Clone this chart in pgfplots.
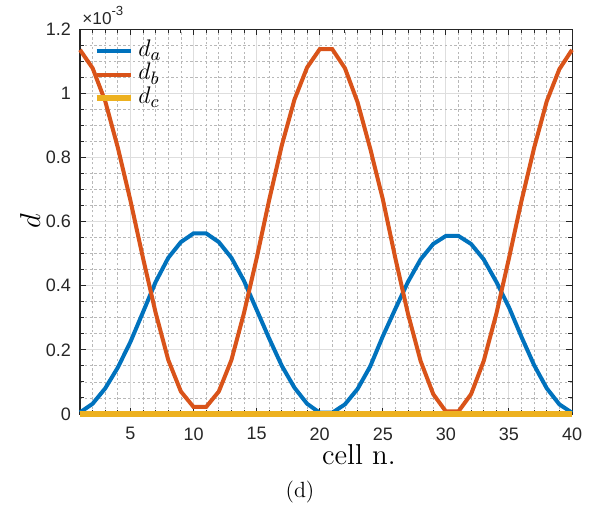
\documentclass[border=0pt]{standalone}
\usepackage{fontspec}
\usepackage{pgfplots}
\pgfplotsset{compat=1.18}
\newfontfamily\helv{Liberation Sans}
\definecolor{mblue}{HTML}{0072BD}
\definecolor{morange}{HTML}{D95319}
\definecolor{myellow}{HTML}{EDB120}
\definecolor{axcol}{HTML}{262626}
\definecolor{majgrid}{HTML}{DEDEDE}
\definecolor{mingrid}{HTML}{B8B8B8}

% values in units of 1e-3
\pgfplotstableread{
x   da     db     dc
1   0.005  1.135  0
2   0.032  1.078  0
3   0.080  0.975  0
4   0.145  0.830  0
5   0.225  0.665  0
6   0.318  0.485  0
7   0.412  0.315  0
8   0.487  0.168  0
9   0.536  0.070  0
10  0.563  0.022  0
11  0.563  0.022  0
12  0.536  0.070  0
13  0.487  0.168  0
14  0.415  0.315  0
15  0.325  0.485  0
16  0.235  0.668  0
17  0.150  0.838  0
18  0.082  0.980  0
19  0.032  1.080  0
20  0.004  1.137  0
21  0.004  1.137  0
22  0.030  1.078  0
23  0.078  0.972  0
24  0.148  0.828  0
25  0.242  0.670  0
26  0.328  0.485  0
27  0.412  0.312  0
28  0.482  0.165  0
29  0.530  0.062  0
30  0.555  0.008  0
31  0.555  0.008  0
32  0.530  0.062  0
33  0.482  0.165  0
34  0.412  0.312  0
35  0.333  0.485  0
36  0.240  0.665  0
37  0.152  0.830  0
38  0.080  0.975  0
39  0.030  1.075  0
40  0.004  1.135  0
}\cells

\begin{document}
\begin{tikzpicture}
\path[use as bounding box] (-40pt,-48pt) rectangle (256pt,207pt);
\begin{axis}[
  scale only axis, width=246pt, height=192.5pt,
  xmin=1, xmax=40, ymin=0, ymax=1.2,
  xtick={5,10,...,40}, ytick={0,0.2,...,1.2},
  minor xtick={2,3,4,6,7,8,9,11,12,13,14,16,17,18,19,21,22,23,24,26,27,28,29,31,32,33,34,36,37,38,39},
  minor ytick={0.05,0.1,0.15,0.25,0.3,0.35,0.45,0.5,0.55,0.65,0.7,0.75,0.85,0.9,0.95,1.05,1.1,1.15},
  grid=both,
  major grid style={majgrid, line width=0.5pt},
  minor grid style={mingrid, line width=0.4pt, dash pattern=on 1.2pt off 1.2pt},
  axis line style={axcol, line width=0.5pt},
  tick style={axcol, line width=0.5pt},
  major tick length=3pt, minor tick length=2pt,
  /pgf/number format/assume math mode=true,
  tick label style={font=\helv\fontsize{9}{11}\selectfont, text=axcol},
  xticklabel style={yshift=-3.2pt},
  yticklabel style={xshift=-1pt},
  xlabel={\fontsize{14.4}{16}\selectfont cell n.},
  xlabel style={at={(axis description cs:0.567,-0.1306)}, anchor=base},
  ylabel={\fontsize{15.5}{18}\selectfont $d$},
  ylabel style={at={(axis description cs:-0.1016,0.5)}, anchor=center},
  clip=false,
  legend style={at={(rel axis cs:0,1)}, anchor=north west, xshift=6.5pt, yshift=-5pt,
    draw=none, fill=none, inner sep=0pt, row sep=0pt,
    font=\fontsize{13}{13}\selectfont,
    nodes={inner sep=0pt, text height=8.5pt, text depth=3.25pt}},
  legend cell align=left,
  legend image code/.code={\draw[#1] (0pt,0pt) -- (17pt,0pt);},
]
\addplot[mblue, line width=2pt] table[x=x, y=da] {\cells};
\addlegendentry{\,$d_a$}
\addplot[morange, line width=2pt] table[x=x, y=db] {\cells};
\addlegendentry{\,$d_b$}
\addplot[myellow, line width=3.3pt] table[x=x, y=dc] {\cells};
\addlegendentry{\,$d_c$}
\node[anchor=base west, inner sep=0pt, text=axcol] at ([xshift=1pt, yshift=2.5pt]rel axis cs:0,1)
  {\helv\fontsize{8.6}{10}\selectfont ×10\raisebox{0.9ex}{\fontsize{6.6}{7}\selectfont -3}};
\end{axis}
\node[anchor=base] at (110pt,-41.75pt) {\fontsize{11}{13}\selectfont (d)};
\end{tikzpicture}
\end{document}
